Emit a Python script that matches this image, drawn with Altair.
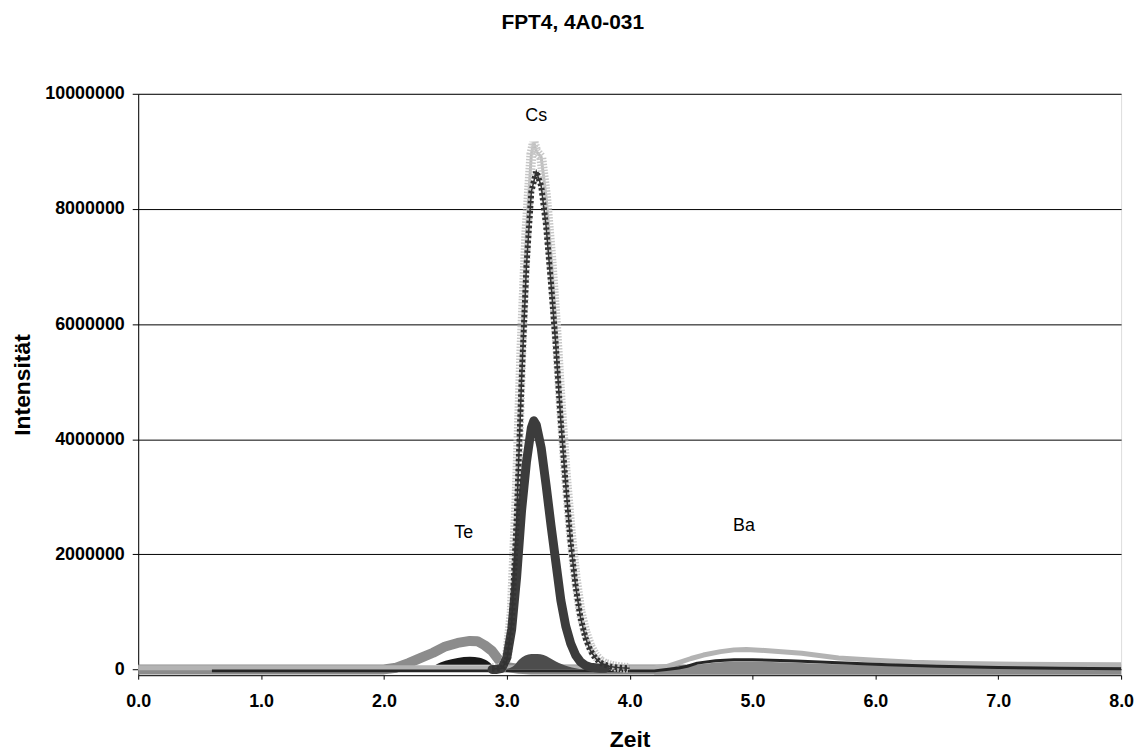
import altair as alt
import pandas as pd

# ---------------- data ----------------
# Cs – light grey series with x markers
cs1_x = [2.88, 2.92, 2.96, 3.00, 3.04, 3.08, 3.12, 3.16, 3.20, 3.22, 3.24, 3.28, 3.32, 3.36,
         3.40, 3.44, 3.48, 3.52, 3.56, 3.60, 3.64, 3.68, 3.72, 3.76, 3.80, 3.84, 3.88, 3.92, 3.96, 4.00]
cs1_y = [20000, 20000, 30000, 200000, 1000000, 3000000, 5600000, 7600000, 8950000, 9150000, 9000000,
         8900000, 8200000, 7200000, 6000000, 4600000, 3400000, 2400000, 1600000, 1000000, 650000,
         400000, 250000, 150000, 100000, 70000, 50000, 40000, 30000, 25000]

# Cs – dark dashed series with square markers
cs2_x = [2.88, 2.92, 2.96, 3.00, 3.04, 3.08, 3.12, 3.16, 3.20, 3.24, 3.28, 3.32, 3.36, 3.40,
         3.44, 3.48, 3.52, 3.56, 3.60, 3.64, 3.68, 3.72, 3.76, 3.80, 3.84, 3.88, 3.92, 3.96, 4.00]
cs2_y = [10000, 10000, 20000, 150000, 800000, 2600000, 5000000, 7000000, 8300000, 8650000, 8400000,
         7700000, 6700000, 5600000, 4300000, 3200000, 2200000, 1450000, 900000, 550000, 330000,
         200000, 120000, 80000, 50000, 40000, 30000, 25000, 20000]

# Cs – dark grey series with circle markers
cs3_x = [2.88, 2.92, 2.96, 3.00, 3.04, 3.08, 3.12, 3.16, 3.20, 3.22, 3.24, 3.28, 3.32, 3.36,
         3.40, 3.44, 3.48, 3.52, 3.56, 3.60, 3.64, 3.68, 3.72, 3.76, 3.80]
cs3_y = [0, 0, 20000, 200000, 700000, 1600000, 2750000, 3600000, 4200000, 4320000, 4250000,
         3850000, 3200000, 2500000, 1850000, 1200000, 750000, 450000, 250000, 130000, 70000,
         40000, 30000, 20000, 20000]

# Cs – small dark grey hump
cs4_x = [2.98, 3.05, 3.10, 3.15, 3.20, 3.25, 3.30, 3.35, 3.40, 3.45, 3.50, 3.56, 3.62]
cs4_y = [0, 50000, 170000, 240000, 270000, 270000, 250000, 200000, 140000, 90000, 50000, 20000, 0]
cs4_base = 0

# Te – medium grey thick line
te1_x = [0.0, 2.0, 2.1, 2.2, 2.3, 2.4, 2.5, 2.6, 2.7, 2.76, 2.82, 2.88, 2.94, 3.0, 3.1, 3.2, 8.0]
te1_y = [0, 0, 30000, 110000, 200000, 290000, 400000, 460000, 495000, 490000, 420000, 320000,
         150000, 40000, 10000, 0, 0]

# Te – black lens
te2_x = [2.42, 2.50, 2.60, 2.70, 2.78, 2.84, 2.88]
te2_y = [80000, 150000, 200000, 220000, 205000, 150000, 80000]
te2_base = 80000

# Ba – light grey line
ba1_x = [0.0, 4.2, 4.3, 4.4, 4.5, 4.6, 4.74, 4.85, 4.95, 5.1, 5.4, 5.7, 6.0, 6.3, 6.7, 7.0, 7.5, 8.0]
ba1_y = [30000, 30000, 50000, 120000, 190000, 250000, 310000, 340000, 345000, 330000, 280000,
         200000, 160000, 125000, 105000, 95000, 85000, 80000]

# Ba – black line
ba2_x = [0.6, 4.2, 4.3, 4.4, 4.47, 4.55, 4.7, 4.85, 5.0, 5.3, 5.7, 6.1, 6.5, 7.0, 7.5, 8.0]
ba2_y = [-25000, -25000, 0, 25000, 55000, 110000, 150000, 170000, 170000, 150000, 115000,
         80000, 55000, 35000, 20000, 10000]

# Ba – medium grey band
ba3_x = [4.2, 4.3, 4.4, 4.47, 4.55, 4.7, 4.85, 5.0, 5.3, 5.7, 6.1, 6.5, 7.0, 7.5, 8.0]
ba3_y = [0, 0, 10000, 30000, 80000, 120000, 140000, 140000, 120000, 85000, 50000, 25000, 10000, 0, -10000]
ba3_base = -90000

# element labels
lab_text = ["Cs", "Te", "Ba"]
lab_x = [3.24, 2.65, 4.93]
lab_y = [9620000, 2370000, 2490000]

x_ticks = [0, 1, 2, 3, 4, 5, 6, 7, 8]
y_ticks = [0, 2000000, 4000000, 6000000, 8000000, 10000000]

# ---------------- chart ----------------
FONT = "Liberation Sans"

xenc = alt.X("x:Q",
             scale=alt.Scale(domain=[0, 8], nice=False, zero=False),
             axis=alt.Axis(values=x_ticks, format=".1f", grid=False, title="Zeit",
                           tickSize=4, tickColor="black", domainColor="black",
                           labelFlush=False,
                           labelFont=FONT, labelFontSize=18, labelFontWeight="bold",
                           labelColor="black", labelPadding=13,
                           titleFont=FONT, titleFontSize=23, titleFontWeight="bold",
                           titleColor="black", titlePadding=19))
yenc = alt.Y("y:Q",
             scale=alt.Scale(domain=[-100000, 10000000], nice=False, zero=False),
             axis=alt.Axis(values=y_ticks, format="d", grid=True, gridColor="black",
                           gridWidth=1, title="Intensität",
                           tickSize=6, tickColor="black", domainColor="black",
                           labelFlush=False,
                           labelFont=FONT, labelFontSize=18, labelFontWeight="bold",
                           labelColor="black", labelPadding=8,
                           titleFont=FONT, titleFontSize=23, titleFontWeight="bold",
                           titleColor="black", titlePadding=10))


def df(xs, ys, base=None):
    d = pd.DataFrame({"x": xs, "y": ys})
    if base is not None:
        d["y2"] = base
    return d


te1 = alt.Chart(df(te1_x, te1_y)).mark_line(color="#8c8c8c", strokeWidth=10, strokeJoin="round").encode(x=xenc, y=yenc)
ba3 = alt.Chart(df(ba3_x, ba3_y, ba3_base)).mark_area(color="#8a8a8a", opacity=1).encode(x=xenc, y=yenc, y2="y2:Q")
ba1 = alt.Chart(df(ba1_x, ba1_y)).mark_line(color="#b3b3b3", strokeWidth=5, strokeJoin="round").encode(x=xenc, y=yenc)
ba2 = alt.Chart(df(ba2_x, ba2_y)).mark_line(color="#262626", strokeWidth=3, strokeJoin="round").encode(x=xenc, y=yenc)
te2 = alt.Chart(df(te2_x, te2_y, te2_base)).mark_area(color="#1a1a1a", opacity=1, interpolate="monotone").encode(x=xenc, y=yenc, y2="y2:Q")
cs4 = alt.Chart(df(cs4_x, cs4_y, cs4_base)).mark_area(color="#4d4d4d", opacity=1, interpolate="monotone").encode(x=xenc, y=yenc, y2="y2:Q")

cs1_df = df(cs1_x, cs1_y)
cs1a = alt.Chart(cs1_df).mark_line(color="#bdbdbd", strokeWidth=3).encode(x=xenc, y=yenc)
cs1b = alt.Chart(cs1_df).mark_line(color="#c6c6c6", strokeWidth=10, strokeDash=[1.5, 1.5]).encode(x=xenc, y=yenc)

cs3 = alt.Chart(df(cs3_x, cs3_y)).mark_line(color="#3c3c3c", strokeWidth=9, strokeCap="round", strokeJoin="round").encode(x=xenc, y=yenc)

cs2_df = df(cs2_x, cs2_y)
cs2a = alt.Chart(cs2_df).mark_line(color="#333333", strokeWidth=1.5).encode(x=xenc, y=yenc)
cs2b = alt.Chart(cs2_df).mark_line(color="#333333", strokeWidth=6, strokeDash=[2.5, 2.5]).encode(x=xenc, y=yenc)

labels = alt.Chart(pd.DataFrame({"x": lab_x, "y": lab_y, "t": lab_text})).mark_text(
    font=FONT, fontSize=18, color="black", align="center", baseline="middle"
).encode(x=xenc, y=yenc, text="t:N")

chart = alt.layer(te1, ba3, ba1, ba2, te2, cs4, cs1a, cs1b, cs3, cs2a, cs2b, labels).properties(
    width=989, height=585,
    title=alt.TitleParams("FPT4, 4A0-031", font=FONT, fontSize=21, fontWeight="bold",
                          color="black", anchor="middle", frame="bounds", offset=52),
    padding={"left": 3, "top": 2, "right": 5, "bottom": 5},
).configure_view(stroke=None).configure(background="white")

chart.save("out.html", embed_options={"renderer": "svg", "actions": False})
